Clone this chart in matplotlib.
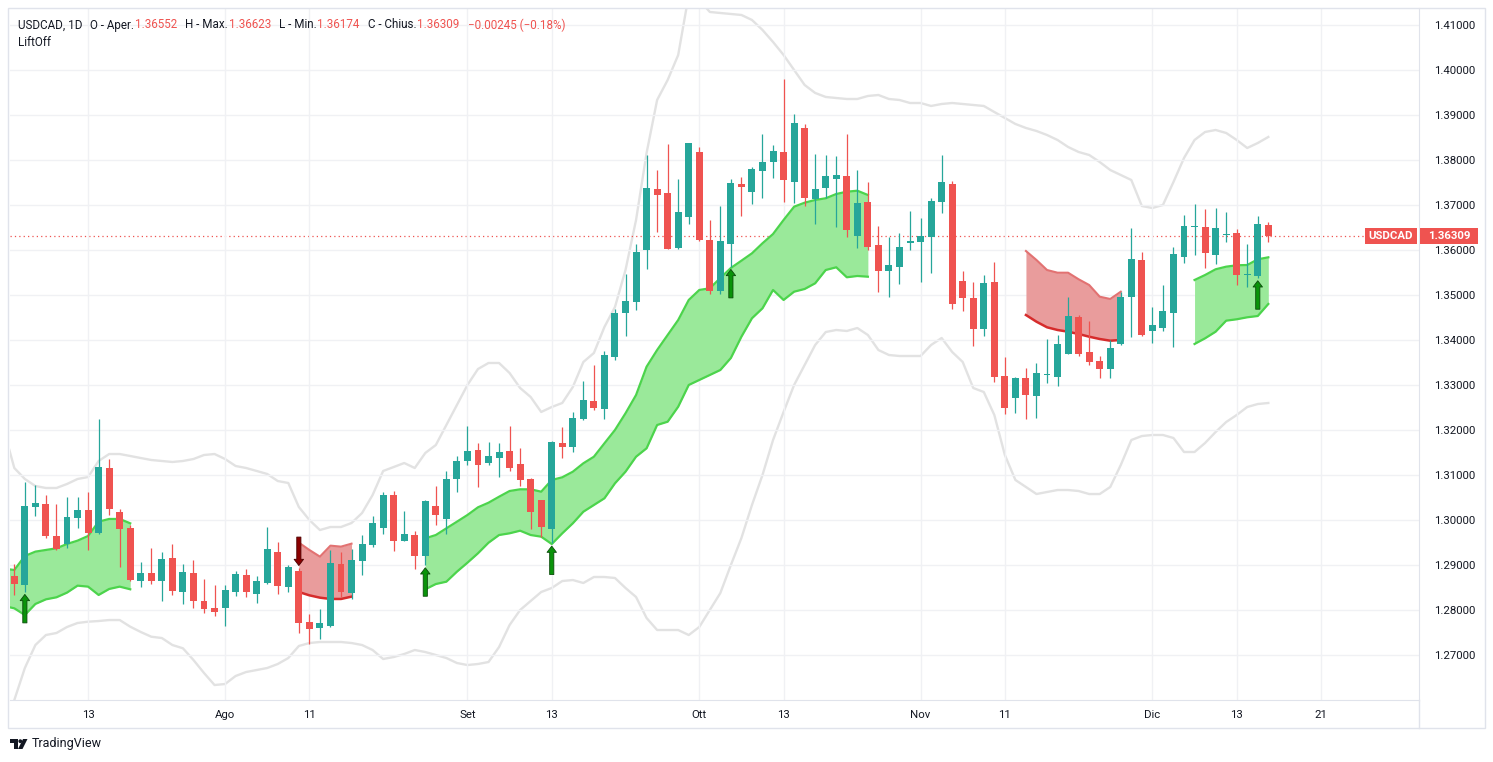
import numpy as np
import matplotlib
matplotlib.use("Agg")
import matplotlib.pyplot as plt
from matplotlib.patches import Rectangle, Circle, Polygon

# USDCAD daily bars, 4 Jul 2022 .. 16 Dec 2022
opens = [1.28763, 1.28563, 1.30296, 1.30363, 1.29652, 1.29474, 1.30052, 1.30230, 1.29719, 1.31163,
         1.30185, 1.29830, 1.28652, 1.28830, 1.28652, 1.29163, 1.28407, 1.28830, 1.28207, 1.28052,
         1.28052, 1.28407, 1.28785, 1.28363, 1.28607, 1.29296, 1.28519, 1.28874, 1.27741, 1.27607,
         1.27652, 1.29030, 1.28385, 1.29096, 1.29452, 1.29830, 1.30563, 1.29541, 1.29674, 1.29207,
         1.30319, 1.30030, 1.30919, 1.31319, 1.31563, 1.31274, 1.31385, 1.31541, 1.31252, 1.30919,
         1.30452, 1.29807, 1.31719, 1.31630, 1.32252, 1.32652, 1.32474, 1.33630, 1.34607, 1.34852,
         1.36007, 1.37363, 1.37274, 1.36052, 1.36741, 1.38185, 1.36230, 1.35096, 1.36141, 1.37474,
         1.37296, 1.37763, 1.37963, 1.38185, 1.37519, 1.38719, 1.37141, 1.37385, 1.37585, 1.37652,
         1.36319, 1.37074, 1.36119, 1.35541, 1.35630, 1.36163, 1.36185, 1.36296, 1.37074, 1.37474,
         1.35319, 1.34941, 1.34252, 1.35296, 1.33207, 1.32719, 1.33163, 1.32763, 1.33237, 1.33185,
         1.33696, 1.34519, 1.33741, 1.33541, 1.33363, 1.33919, 1.34963, 1.35785, 1.34207, 1.34274,
         1.34607, 1.35852, 1.36526, 1.36519, 1.35896, 1.36341, 1.36385, 1.35459, 1.35430, 1.36552]
highs = [1.29030, 1.30852, 1.30785, 1.30563, 1.30363, 1.30519, 1.30519, 1.30630, 1.32252, 1.31363,
         1.30252, 1.29896, 1.29074, 1.29385, 1.29296, 1.29474, 1.29030, 1.29119, 1.28696, 1.28563,
         1.28563, 1.28874, 1.28919, 1.28763, 1.29852, 1.29519, 1.29007, 1.28933, 1.27919, 1.28030,
         1.29341, 1.29296, 1.29363, 1.29674, 1.30096, 1.30630, 1.30652, 1.30207, 1.29763, 1.30452,
         1.30763, 1.31096, 1.31430, 1.32096, 1.31719, 1.31741, 1.31719, 1.32096, 1.31607, 1.30941,
         1.30452, 1.31763, 1.32074, 1.32407, 1.33096, 1.33452, 1.33763, 1.34696, 1.35474, 1.36141,
         1.38119, 1.37785, 1.38363, 1.37585, 1.38385, 1.38296, 1.36674, 1.36985, 1.37585, 1.37630,
         1.37852, 1.38585, 1.38341, 1.39807, 1.39030, 1.38807, 1.38141, 1.38119, 1.38096, 1.38585,
         1.37785, 1.37519, 1.36541, 1.36296, 1.36385, 1.36874, 1.36719, 1.37163, 1.38119, 1.37541,
         1.35541, 1.35296, 1.35452, 1.35741, 1.33630, 1.33185, 1.33385, 1.33496, 1.34030, 1.34119,
         1.34963, 1.34563, 1.34430, 1.33652, 1.34007, 1.35074, 1.36496, 1.35963, 1.34741, 1.35230,
         1.36074, 1.36785, 1.37030, 1.36919, 1.36941, 1.36852, 1.36474, 1.36141, 1.36763, 1.36623]
lows = [1.28341, 1.28415, 1.30096, 1.29607, 1.29341, 1.29385, 1.29830, 1.29341, 1.29696, 1.30119,
        1.28963, 1.28652, 1.28519, 1.28585, 1.28207, 1.28341, 1.28141, 1.28052, 1.27941, 1.27874,
        1.27652, 1.28319, 1.28296, 1.28163, 1.28585, 1.28363, 1.28407, 1.27496, 1.27252, 1.27363,
        1.27637, 1.28296, 1.28252, 1.28785, 1.29407, 1.29696, 1.29319, 1.29541, 1.28919, 1.29007,
        1.29896, 1.29696, 1.30630, 1.31230, 1.30741, 1.31230, 1.30963, 1.31096, 1.30763, 1.29807,
        1.29630, 1.29489, 1.31385, 1.31519, 1.32230, 1.32452, 1.32252, 1.33563, 1.34096, 1.34674,
        1.35585, 1.36407, 1.36030, 1.36030, 1.36585, 1.36207, 1.35030, 1.35030, 1.35637, 1.36763,
        1.37030, 1.37163, 1.37607, 1.37074, 1.37052, 1.36985, 1.36585, 1.37163, 1.36519, 1.36296,
        1.36052, 1.36007, 1.35074, 1.34963, 1.35252, 1.36007, 1.35296, 1.35496, 1.36830, 1.34696,
        1.34652, 1.33874, 1.34096, 1.33074, 1.32363, 1.32385, 1.32252, 1.32274, 1.33052, 1.32985,
        1.33696, 1.33652, 1.33452, 1.33163, 1.33163, 1.33896, 1.34074, 1.34096, 1.33941, 1.34207,
        1.33852, 1.35719, 1.35896, 1.35607, 1.35696, 1.36185, 1.35230, 1.35185, 1.35385, 1.36174]
closes = [1.28585, 1.30319, 1.30385, 1.29652, 1.29363, 1.30074, 1.30230, 1.29719, 1.31185, 1.30252,
          1.29807, 1.28674, 1.28830, 1.28652, 1.29141, 1.28430, 1.28852, 1.28207, 1.28030, 1.27963,
          1.28452, 1.28807, 1.28407, 1.28652, 1.29363, 1.28541, 1.28963, 1.27719, 1.27585, 1.27719,
          1.29052, 1.28407, 1.29119, 1.29474, 1.29941, 1.30563, 1.29541, 1.29696, 1.29207, 1.30430,
          1.30119, 1.30919, 1.31319, 1.31541, 1.31230, 1.31430, 1.31519, 1.31163, 1.30896, 1.30185,
          1.29852, 1.31741, 1.31630, 1.32274, 1.32674, 1.32496, 1.33674, 1.34607, 1.34874, 1.35963,
          1.37385, 1.37230, 1.36030, 1.36852, 1.38385, 1.36230, 1.35096, 1.36207, 1.37496, 1.37407,
          1.37807, 1.37963, 1.38207, 1.37563, 1.38830, 1.37163, 1.37363, 1.37652, 1.37674, 1.36452,
          1.37052, 1.36074, 1.35541, 1.35674, 1.36074, 1.36207, 1.36319, 1.37096, 1.37519, 1.34807,
          1.34941, 1.34252, 1.35274, 1.33185, 1.32496, 1.33163, 1.32785, 1.33274, 1.33252, 1.33919,
          1.34541, 1.33696, 1.33519, 1.33363, 1.33830, 1.34963, 1.35807, 1.34119, 1.34341, 1.34652,
          1.35919, 1.36541, 1.36541, 1.35941, 1.36496, 1.36363, 1.35452, 1.35474, 1.36585, 1.36309]

# grey envelope, starts one bar before the first visible candle
env_upper = [1.32007, 1.31162, 1.30918, 1.30762, 1.30718, 1.30718, 1.30807, 1.30918, 1.30962, 1.31318,
             1.31473, 1.31473, 1.31429, 1.31384, 1.31340, 1.31318, 1.31296, 1.31318, 1.31362, 1.31451,
             1.31473, 1.31362, 1.31207, 1.31162, 1.31096, 1.31029, 1.30873, 1.30829, 1.30296, 1.30007,
             1.29784, 1.29851, 1.29851, 1.29940, 1.30162, 1.30562, 1.31096, 1.31184, 1.31273, 1.31162,
             1.31496, 1.31673, 1.32118, 1.32562, 1.33007, 1.33362, 1.33496, 1.33496, 1.33273, 1.32940,
             1.32740, 1.32407, 1.32518, 1.32607, 1.32962, 1.33518, 1.33718, 1.34296, 1.34740, 1.35562,
             1.36673, 1.38162, 1.39340, 1.39784, 1.40340, 1.41673, 1.41562, 1.41296, 1.41273, 1.41251,
             1.41229, 1.41118, 1.40896, 1.40629, 1.40340, 1.40007, 1.39673, 1.39496, 1.39407, 1.39384,
             1.39362, 1.39362, 1.39429, 1.39451, 1.39362, 1.39340, 1.39273, 1.39273, 1.39207, 1.39251,
             1.39273, 1.39251, 1.39229, 1.39207, 1.39073, 1.38940, 1.38807, 1.38718, 1.38651, 1.38562,
             1.38451, 1.38296, 1.38184, 1.38118, 1.37962, 1.37784, 1.37673, 1.37562, 1.36984, 1.36940,
             1.37007, 1.37518, 1.38051, 1.38451, 1.38629, 1.38673, 1.38607, 1.38451, 1.38273, 1.38384,
             1.38518]
env_lower = [1.25118, 1.26007, 1.26718, 1.27229, 1.27451, 1.27496, 1.27629, 1.27718, 1.27747, 1.27762,
             1.27784, 1.27784, 1.27636, 1.27518, 1.27413, 1.27384, 1.27229, 1.27156, 1.26896, 1.26607,
             1.26340, 1.26362, 1.26540, 1.26629, 1.26673, 1.26718, 1.26807, 1.26940, 1.27207, 1.27273,
             1.27296, 1.27296, 1.27296, 1.27273, 1.27229, 1.27118, 1.26918, 1.26962, 1.27029, 1.27118,
             1.27073, 1.27007, 1.26940, 1.26829, 1.26784, 1.26807, 1.26851, 1.27184, 1.27673, 1.28007,
             1.28207, 1.28407, 1.28496, 1.28651, 1.28673, 1.28607, 1.28740, 1.28740, 1.28718, 1.28496,
             1.28296, 1.27829, 1.27562, 1.27562, 1.27562, 1.27451, 1.27629, 1.28007, 1.28384, 1.29007,
             1.29607, 1.30340, 1.31007, 1.31784, 1.32407, 1.33007, 1.33451, 1.33896, 1.34184, 1.34229,
             1.34207, 1.34273, 1.34118, 1.33784, 1.33673, 1.33651, 1.33651, 1.33651, 1.33896, 1.34051,
             1.33740, 1.33518, 1.32940, 1.32851, 1.32340, 1.31451, 1.30896, 1.30740, 1.30584, 1.30629,
             1.30673, 1.30673, 1.30651, 1.30584, 1.30584, 1.30740, 1.31229, 1.31784, 1.31873, 1.31896,
             1.31896, 1.31829, 1.31518, 1.31518, 1.31718, 1.31962, 1.32184, 1.32340, 1.32518, 1.32584,
             1.32607]

# LiftOff bands: (first bar index, upper, lower, direction)
bands = [
    (-1, [1.28926, 1.28896, 1.29207, 1.29304, 1.29341, 1.29378, 1.29474, 1.29548, 1.29652, 1.29970,
          1.30030, 1.30030, 1.29933],
         [1.28096, 1.28044, 1.27896, 1.28141, 1.28244, 1.28289, 1.28393, 1.28548, 1.28526, 1.28341,
          1.28474, 1.28526, 1.28467], "up"),
    (27, [1.29504, 1.29341, 1.29193, 1.29437, 1.29415, 1.29481],
         [1.28407, 1.28333, 1.28281, 1.28252, 1.28252, 1.28304], "down"),
    (39, [1.29600, 1.29673, 1.29822, 1.29969, 1.30118, 1.30289, 1.30391, 1.30524, 1.30651, 1.30689,
          1.30689, 1.30636, 1.30896, 1.30956, 1.31080, 1.31267, 1.31413, 1.31711, 1.32007, 1.32378,
          1.32784, 1.33413, 1.33784, 1.34118, 1.34451, 1.34896, 1.35118, 1.35156, 1.35384, 1.35607,
          1.35769, 1.35933, 1.36156, 1.36362, 1.36673, 1.36969, 1.37058, 1.37118, 1.37156, 1.37251,
          1.37302, 1.37324, 1.37229],
         [1.28467, 1.28584, 1.28636, 1.28858, 1.29058, 1.29267, 1.29502, 1.29673, 1.29711, 1.29769,
          1.29673, 1.29636, 1.29473, 1.29711, 1.29933, 1.30191, 1.30340, 1.30489, 1.30822, 1.31080,
          1.31413, 1.31600, 1.32118, 1.32191, 1.32524, 1.33007, 1.33118, 1.33229, 1.33340, 1.33607,
          1.34080, 1.34489, 1.34711, 1.35118, 1.34896, 1.35080, 1.35140, 1.35267, 1.35562, 1.35622,
          1.35400, 1.35429, 1.35413], "up"),
    (96, [1.35984, 1.35784, 1.35562, 1.35502, 1.35502, 1.35356, 1.35229, 1.34969, 1.34918, 1.35080],
         [1.34562, 1.34413, 1.34289, 1.34229, 1.34191, 1.34140, 1.34080, 1.34029, 1.33991, 1.34007], "down"),
    (112, [1.35340, 1.35451, 1.35578, 1.35636, 1.35667, 1.35673, 1.35800, 1.35844],
          [1.33918, 1.34044, 1.34191, 1.34436, 1.34467, 1.34511, 1.34540, 1.34807], "up"),
]
up_signals = [1, 39, 51, 68, 118]
down_signals = [27]

tick_pos = [7, 20, 28, 43, 51, 65, 73, 86, 94, 108, 116, 124]   # 124 = 21 Dec in the empty future area
tick_labels = ["13", "Ago", "11", "Set", "13", "Ott", "13", "Nov", "11", "Dic", "13", "21"]
price_ticks = [1.27, 1.28, 1.29, 1.30, 1.31, 1.32, 1.33, 1.34, 1.35, 1.36, 1.37, 1.38, 1.39, 1.40, 1.41]

W, H = 1493, 762
plt.rcParams['font.family'] = ['Roboto', 'DejaVu Sans']
fig = plt.figure(figsize=(W / 100, H / 100), dpi=100, facecolor="white")

# plot area in pixels: x 10..1419, y 8..700
ax = fig.add_axes([10 / W, (H - 700) / H, (1419 - 10) / W, (700 - 8) / H])
ax.set_xlim(-0.41, 133.3)
ax.set_ylim(1.26007, 1.41384)

TEXT = "#131722"
GREEN = "#26a69a"
RED = "#ef5350"

ax.set_yticks(price_ticks)
ax.set_yticklabels(["%.5f" % p for p in price_ticks])
ax.yaxis.tick_right()
ax.set_xticks(tick_pos)
ax.set_xticklabels(tick_labels)
ax.tick_params(axis="y", length=0, pad=11, labelsize=8.2, labelcolor=TEXT)
ax.tick_params(axis="x", length=0, pad=7, labelsize=8.2, labelcolor=TEXT)
ax.grid(True, color="#f0f1f4", lw=1, zorder=0)
for side in ["top", "left"]:
    ax.spines[side].set_visible(False)
for side in ["right", "bottom"]:
    ax.spines[side].set_color("#e0e3eb")

# grey envelope
xe = np.arange(-1, len(env_upper) - 1)
ax.plot(xe, env_upper, color="#e2e2e2", lw=1.7, zorder=1)
ax.plot(xe, env_lower, color="#e2e2e2", lw=1.7, zorder=1)

# LiftOff bands
for start, up_v, lo_v, kind in bands:
    xs = np.arange(start, start + len(up_v))
    if kind == "up":
        ax.fill_between(xs, lo_v, up_v, color="#9ae99a", lw=0, zorder=2)
        ax.plot(xs, up_v, color="#4cd44c", lw=1.6, zorder=2.5)
        ax.plot(xs, lo_v, color="#4cd44c", lw=1.6, zorder=2.5)
    else:
        ax.fill_between(xs, lo_v, up_v, color="#e99c9c", lw=0, zorder=2)
        ax.plot(xs, up_v, color="#e27272", lw=1.5, zorder=2.5)
        ax.plot(xs, lo_v, color="#d62c2c", lw=1.8, zorder=2.5)

# candles
o, h, l, c = map(np.array, (opens, highs, lows, closes))
x = np.arange(len(o))
col = np.where(c >= o, GREEN, RED)
ax.vlines(x, l, h, colors=col, lw=0.9, zorder=3)
ax.bar(x, np.maximum(np.abs(c - o), 0.00022), bottom=np.minimum(o, c),
       width=0.66, color=col, lw=0, zorder=4)

# signal arrows
for i in up_signals:
    ax.annotate("", xy=(i, lows[i]), xytext=(0, -22.5), textcoords="offset points",
                arrowprops=dict(arrowstyle="simple,head_length=0.45,head_width=0.68,tail_width=0.3",
                                fc="#0a930a", ec="#0b4a0b", lw=0.6, shrinkA=0, shrinkB=2),
                zorder=6)
for i in down_signals:
    ax.annotate("", xy=(i, highs[i]), xytext=(0, 22.5), textcoords="offset points",
                arrowprops=dict(arrowstyle="simple,head_length=0.45,head_width=0.68,tail_width=0.3",
                                fc="#8b0000", ec="#4a0000", lw=0.6, shrinkA=0, shrinkB=2),
                zorder=6)

# last price line
last = closes[-1]
ax.axhline(last, color=RED, lw=0.9, ls=(0, (1, 2.5)), zorder=1.5)

# overlay in pixel coordinates for frame, labels and header
ov = fig.add_axes([0, 0, 1, 1], zorder=10)
ov.set_xlim(0, W)
ov.set_ylim(H, 0)
ov.axis("off")
ov.patch.set_alpha(0)

ov.add_patch(Rectangle((8, 8), 1485 - 8, 728 - 8, fill=False, ec="#e0e3eb", lw=1))
ov.plot([1419, 1419], [700, 728], color="#e0e3eb", lw=1)

fig.canvas.draw()
py = H - ax.transData.transform((0, last))[1]
ov.add_patch(Rectangle((1420, py - 8), 58, 16, fc=RED, ec="none"))
ov.text(1449, py, "%.5f" % last, color="white", fontsize=8.2, fontweight="bold",
        ha="center", va="center")
ov.add_patch(Rectangle((1365, py - 8), 52, 16, fc=RED, ec="none"))
ov.text(1391, py, "USDCAD", color="white", fontsize=8.2, fontweight="bold",
        ha="center", va="center")

# header line with OHLC values
r = fig.canvas.get_renderer()
pieces = [("USDCAD, 1D", TEXT, 7), ("O - Aper.", TEXT, 1), ("%.5f" % opens[-1], RED, 8),
          ("H - Max.", TEXT, 1), ("%.5f" % highs[-1], RED, 8),
          ("L - Min.", TEXT, 1), ("%.5f" % lows[-1], RED, 8),
          ("C - Chius.", TEXT, 1), ("%.5f" % closes[-1], RED, 8),
          ("\u22120.00245 (\u22120.18%)", RED, 0)]
hx = 18
for s, color, gap in pieces:
    t = ov.text(hx, 25, s, color=color, fontsize=8.4, ha="left", va="center")
    hx += t.get_window_extent(renderer=r).width + gap
ov.text(18, 42, "LiftOff", color=TEXT, fontsize=8.4, ha="left", va="center")

# TradingView mark
ov.add_patch(Rectangle((10, 739), 7.5, 3.5, fc=TEXT, ec="none"))
ov.add_patch(Rectangle((14, 739), 3.5, 10, fc=TEXT, ec="none"))
ov.add_patch(Circle((20.3, 741.2), 1.9, fc=TEXT, ec="none"))
ov.add_patch(Polygon([(23, 739), (27.5, 739), (22.5, 749), (18, 749)], closed=True, fc=TEXT, ec="none"))
ov.text(32, 744, "TradingView", color=TEXT, fontsize=9, ha="left", va="center")

fig.savefig("out.png", dpi=100, facecolor="white")
